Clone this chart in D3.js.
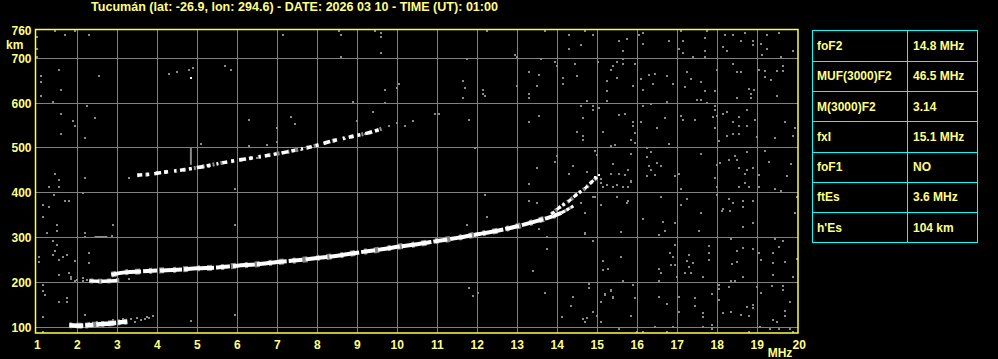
<!DOCTYPE html>
<html>
<head>
<meta charset="utf-8">
<script src="https://cdn.jsdelivr.net/npm/d3@7"></script>
<style>
body{margin:0;background:#000;overflow:hidden;}
text{font-family:"Liberation Sans",Arial,sans-serif;font-weight:bold;}
</style>
</head>
<body>
<div id="chart-area"></div>
<script>
// ionogram header + axes
var title="Tucumán (lat: -26.9, lon: 294.6) - DATE: 2026 03 10 - TIME (UT): 01:00";
var freqTicks=[1,2,3,4,5,6,7,8,9,10,11,12,13,14,15,16,17,18,19,20];
var kmTicks=[100,200,300,400,500,600,700];
// parameter table
var paramNames=["foF2","MUF(3000)F2","M(3000)F2","fxI","foF1","ftEs","h'Es"];
var paramValues=["14.8 MHz","46.5 MHz","3.14","15.1 MHz","NO","3.6 MHz","104 km"];

// traces (MHz , km)
var f2Freq=[2.85,3.2,3.6,4.0,4.5,5.0,5.5,6.0,6.5,7.0,7.5,8.0,8.5,9.0,9.5,10.0,10.5,11.0,11.5,12.0,12.5,13.0,13.5,13.8,14.1];
var f2Km=[217,222,224,226,228,231,233,237,240,245,249,254,259,266,272,279,285,292,299,307,315,325,337,345,355];
var f2LowFreq=[2.3,2.6,2.85,3.05];
var f2LowKm=[203,202,203,204];
var f2TailFreq=[14.1,14.25,14.4];
var f2TailKm=[355,362,370];
var xBranchFreq=[13.85,14.1,14.3,14.5,14.7,14.85,15.0];
var xBranchKm=[352,370,382,397,410,423,435];
var f2HopFreq=[3.5,3.8,4.2,4.5,5.0,5.65,6.2,6.75,7.3,7.83,8.4,8.9,9.38,9.65];
var f2HopKm=[439,441,446,449,456,467,475,483,492,502,516,526,536,544];
var esFreq=[1.8,2.1,2.4,2.7,3.0,3.25];
var esKm=[104,103,105,107,110,112];

// scattered echoes / noise (MHz , km)
var noisePts=[
[14.28,751],[14.7,760],[14.9,751],[14.6,729],[14.3,720],[15.53,738],[15.75,742],[15.65,716],[16.13,733],[16.15,756],[16.05,751],[16.8,738],[17.1,760],[17.15,738],[17.03,720],[17.15,711],[17.4,702],[17.7,745],[17.75,760],[17.7,716],[17.7,702],[18.18,751],[18.4,751],[18.7,756],[18.6,738],[18.88,738],[18.9,729],[18.15,725],[18.25,716],[19.25,751],[19.1,733],[19.25,720],[19.13,707],[19.55,756],[19.6,704],[19.9,716],
[14.45,687],[15.03,691],[15.35,673],[15.4,682],[15.5,691],[15.65,687],[15.65,698],[15.95,687],[14.15,655],[14.5,660],[14.15,642],[15.25,649],[15.25,626],[15.5,655],[15.9,638],[16.1,653],[16.15,629],[16.3,662],[16.45,664],[16.75,660],[16.4,642],[16.9,642],[17.25,669],[17.35,653],[17.6,647],[17.2,635],[17.7,626],[17.95,626],[17.5,606],[17.6,606],[15.25,604],[14.75,604],[16.75,602],[18,673],[18.4,687],[18.5,669],[18.6,669],[18.8,631],[18.93,629],[18.85,620],[18.85,611],[18.5,611],[19.05,673],[19.2,671],[19.2,658],[19.35,651],[19.5,671],[19.65,671],[19.5,615],[19.65,682],
[14.6,593],[14.9,593],[14.9,584],[15.05,588],[14.65,566],[14.5,535],[14.65,526],[14.65,517],[15.15,535],[15.55,573],[15.68,575],[15.9,557],[15.9,548],[15.95,533],[15.95,510],[15.85,517],[15.35,504],[15.45,506],[16.1,557],[16.15,593],[16.35,597],[16.5,544],[16.7,566],[16.8,508],[17.1,571],[17.15,562],[17.45,562],[17.75,600],[17.95,593],[17.95,584],[17.9,568],[18,571],[17.95,544],[18.03,515],[18.15,575],[18.25,580],[18.4,557],[18.53,568],[18.55,548],[18.75,584],[18.75,548],[18.25,526],[18.4,531],[18.55,531],[18.95,562],[19,524],[19.45,522],[19.7,557],[19.9,526],[19.95,544],
[14.95,493],[14.98,484],[14.4,459],[14.28,441],[14.75,446],[15.4,464],[15.35,441],[15.55,441],[15.7,439],[15.78,450],[15.85,486],[15.85,426],[16.23,499],[16.35,490],[16.25,479],[16.3,459],[16.35,450],[16.5,466],[16.6,459],[16.25,437],[16.45,439],[16.95,437],[17.05,441],[17.6,486],[18,461],[18.08,466],[18.3,472],[18.45,481],[18.5,472],[18.75,490],[18.55,455],[18.7,441],[18.9,455],[18.75,450],[19.05,439],[19.2,493],[19.28,468],[19.85,464],[19.75,437],[17.95,432],[15.08,430],
[15.1,421],[15.15,412],[15.25,417],[15.4,412],[15.5,417],[15.65,412],[15.78,412],[15.85,423],[14.88,390],[14.95,390],[15.5,390],[15.78,381],[15.75,377],[14.6,377],[15.08,372],[14.7,354],[14.7,310],[15.6,312],[16.15,341],[16.6,390],[16.65,334],[16.95,332],[16.53,305],[16.7,314],[17.1,408],[17.25,386],[17.1,372],[17.6,354],[17.53,314],[18,394],[18,412],[18.13,359],[18.15,363],[18.33,359],[18.3,386],[18.4,377],[18.65,381],[18.65,368],[18.65,323],[18.55,412],[18.78,412],[18.7,421],[19.05,412],[18.9,332],[18.9,381],[19.45,408],[19.6,403],[19.98,390],[19.95,354],
[14.9,292],[15.15,247],[15.15,227],[15.28,229],[15.6,256],[15.65,203],[16.53,229],[16.6,220],[16.83,265],[16.9,256],[16.85,238],[16.95,238],[16.95,283],[17,212],[17.28,261],[17.25,247],[17.4,243],[17.28,234],[17.2,220],[17.35,220],[17.78,281],[17.78,265],[17.78,250],[17.65,212],[18.35,296],[18.5,270],[18.65,276],[18.5,245],[18.38,241],[18.65,212],[18.9,274],[19.05,265],[19.1,250],[19.4,265],[19.4,243],[19.4,216],[19.55,278],[19.45,296],[19.65,292],[19.7,245],[19.9,212],[19.98,252],[18.35,203],[18.45,203],[16.55,203],
[14.78,196],[14.8,187],[14.4,167],[14.35,147],[14.13,122],[14.65,118],[14.73,120],[14.7,111],[14.88,133],[14.98,125],[15.2,171],[15.35,180],[15.08,156],[15.4,165],[15.9,194],[15.95,165],[15.85,125],[16.53,167],[16.75,151],[17.03,167],[17.05,133],[17.45,165],[17.45,147],[17.65,131],[17.65,122],[17.88,174],[18.03,194],[18.05,185],[18.05,160],[18.3,189],[18.15,131],[18.35,133],[18.6,127],[18.73,145],[18.8,125],[18.9,149],[18.9,142],[19,189],[19.1,176],[19.38,191],[19.65,191],[19.65,183],[19.83,156],[19.7,136],[19.7,125],[19.4,116],[19.5,111],[19.08,100],[19.53,96],[19.83,96],[19.9,89],[15.08,111],[15.53,96],[16.45,100],[16.75,89],[16.9,100],[17.65,100],[17.88,104],[17.88,96],[18.78,89],[19.33,96],[16.15,89],[16,89],
[1.45,760],[1.7,751],[1.95,760],[2.3,751],[1.0,747],[1.0,720],[1.0,702],[1.55,673],[1.1,660],[1.1,647],[1.6,629],[2.55,660],[1.1,615],[1.4,602],[2.25,593],[1.6,575],[1.9,559],[1.95,548],[2.45,566],[1.6,531],[2.2,522],[4.3,664],[4.5,669],[4.78,673],[4.9,678],[5.7,682],[5.85,673],[7.15,751],[6.3,562],[7,544],[7.35,568],[7.45,553],[5.1,508],[6.75,506],[6.3,504],[7,513],
[8.55,760],[8.6,751],[9.45,760],[9.6,756],[9.6,747],[9.6,711],[8.6,704],[12.25,760],[13.7,760],[14.28,720],[12.95,707],[13,702],[11.75,698],[13.6,698],[13.95,691],[14,682],[13.3,669],[13.55,662],[13.5,638],[11.65,649],[11.7,633],[11.65,611],[12.15,629],[12.15,620],[12.2,615],[13,638],[13.3,620],[13.3,611],[10.05,642],[10,633],[9.7,629],[9.7,600],[8.9,602],[9.4,580],[13.55,571],[13.3,557],[11.8,562],[10.95,575],[11.05,575],[10.4,559],[10.2,548],[10,555],[9,559],[11.95,499],[14,481],
[1.45,441],[1.55,428],[1.55,412],[1.3,412],[1.43,394],[1.7,381],[1.8,381],[1.15,372],[1.3,368],[1.15,345],[1.5,328],[1.5,314],[1.25,310],[1.4,292],[1.5,283],[1.45,270],[1.4,261],[1.65,256],[1.75,261],[1.55,250],[1.03,256],[1.03,245],[1.95,247],[1.8,220],[1.85,212],[1.55,216],[1.15,194],[1.15,180],[1.2,171],[1.75,165],[2.2,432],[2.15,399],[2.9,328],[2.2,310],[2.2,301],[2.3,265],[2.3,243],[1.95,203],[2.15,209],[3.3,432],[5.95,408],[5.95,328],[5.9,470],[2.88,303],[3.3,207],
[13.95,468],[13.5,455],[13.3,419],[12.2,394],[13.3,381],[13.5,377],[13.53,319],[11.75,328],[12.25,345],[13.75,301],[13.75,274],[14.7,308],[13.4,225],[11.8,187],[11.9,169],[12.03,176],[13.7,176],[15.2,174],[15.35,183],[15.4,167],
[1.15,122],[1.55,156],[1.75,156],[2.2,127],[1.15,89],[4.85,113],[5.95,127],
[3.35,118],[3.5,121],[3.6,116],[3.75,123],[3.8,120],[3.9,125],[2.5,112],[2.9,116],[3.15,118],[2.3,108],[3.45,112],[3.7,117],
[1.85,207],[2.0,205],[2.15,203],[2.25,206],
[4.0,446],[4.7,452],[5.3,458],[5.9,470],[6.5,478],[7.0,487],[7.6,496],[8.2,509],[8.7,520],[9.2,531],[9.8,548]
];
// a few isolated strong echoes
var whitePts=[[4.85,655],[14.95,436],[15.05,440]];

var W=998,H=359;
var svg=d3.select("#chart-area").append("svg").attr("width",W).attr("height",H)
          .style("background","#000").style("display","block");

var x=d3.scaleLinear().domain([1,20]).range([37.3,797.3]);
var y=d3.scaleLinear().domain([100,700]).range([327,58.3]);

var plotL=35.5,plotT=29.5,plotR=798,plotB=333;

//grid
var grid=svg.append("g").attr("shape-rendering","crispEdges");
grid.selectAll("line.v").data(freqTicks.slice(1,-1)).enter().append("line")
    .attr("x1",d=>Math.floor(x(d))+0.5).attr("x2",d=>Math.floor(x(d))+0.5)
    .attr("y1",plotT).attr("y2",plotB)
    .attr("stroke","#808080").attr("stroke-width",1);
grid.selectAll("line.h").data(kmTicks).enter().append("line")
    .attr("x1",plotL).attr("x2",plotR)
    .attr("y1",d=>Math.floor(y(d))+0.5).attr("y2",d=>Math.floor(y(d))+0.5)
    .attr("stroke","#808080").attr("stroke-width",1);

var g=svg.append("g");

//noise dots
g.selectAll("rect.noise").data(noisePts).enter().append("rect")
 .attr("class","noise")
 .attr("x",d=>Math.round(x(d[0]))-1)
 .attr("y",d=>Math.round(y(d[1]))-1)
 .attr("width",2).attr("height",2)
 .attr("fill","#8a8a8a").attr("shape-rendering","crispEdges");

function pairs(fs,ks){ return fs.map((f,i)=>[f,ks[i]]); }
var line=d3.line().x(d=>x(d[0])).y(d=>y(d[1])).curve(d3.curveMonotoneX);

function trace(data,gray,white,dash,grayDash){
  if(gray>0){
    g.append("path").attr("d",line(data)).attr("fill","none")
     .attr("stroke","#8a8a8a").attr("stroke-width",gray)
     .attr("stroke-dasharray",grayDash||null);
  }
  g.append("path").attr("d",line(data)).attr("fill","none")
   .attr("stroke","#fff").attr("stroke-width",white)
   .attr("stroke-dasharray",dash||null);
}

//F2 trace
trace(pairs(f2Freq,f2Km),6,4,"30,2,14,3,22,2",  "5,9,3,7");
trace(pairs(f2LowFreq,f2LowKm),5,3.5,"10,2,16,3","4,5");
trace(pairs(f2TailFreq,f2TailKm),3,3,"4,2,3,2",null);
trace(pairs(xBranchFreq,xBranchKm),4,3,"4,3,5,2,3,4","2,3");
//second hop
trace(pairs(f2HopFreq,f2HopKm),4,3.5,"5,4,3,5,7,3,4,6,2,4","2,6,3,8");
//Es
trace(pairs(esFreq,esKm),6,4.5,"14,2,8,3,20,2","3,4,6,3");

//gray artefacts
g.append("line").attr("x1",x(4.84)).attr("x2",x(4.84)).attr("y1",y(462)).attr("y2",y(500))
 .attr("stroke","#8a8a8a").attr("stroke-width",2);
g.append("line").attr("x1",x(2.43)).attr("x2",x(2.75)).attr("y1",y(301)).attr("y2",y(301))
 .attr("stroke","#8a8a8a").attr("stroke-width",2);

g.selectAll("rect.white").data(whitePts).enter().append("rect")
 .attr("x",d=>Math.round(x(d[0]))-1).attr("y",d=>Math.round(y(d[1]))-1)
 .attr("width",2).attr("height",2).attr("fill","#fff");

//border
svg.append("rect").attr("x",plotL).attr("y",plotT).attr("width",plotR-plotL).attr("height",plotB-plotT)
   .attr("fill","none").attr("stroke","#ffff40").attr("stroke-width",1.5);

var yellow="#ffff80";
//title
svg.append("text").attr("x",91).attr("y",11).attr("fill",yellow)
   .attr("textLength",407).attr("lengthAdjust","spacingAndGlyphs")
   .style("font-size","12px").text(title);

//x labels
svg.selectAll("text.xl").data(freqTicks).enter().append("text")
   .attr("x",d=>x(d)+ (d==20?2:0)).attr("y",348.5)
   .attr("text-anchor","middle").attr("fill",yellow)
   .style("font-size","12px").text(d=>d);
svg.append("text").attr("x",780).attr("y",357).attr("text-anchor","middle")
   .attr("fill",yellow).style("font-size","12px").text("MHz");

//y labels
svg.selectAll("text.yl").data(kmTicks).enter().append("text")
   .attr("x",31.5).attr("y",d=>y(d)+4.5)
   .attr("text-anchor","end").attr("fill",yellow)
   .style("font-size","12px").text(d=>d);
svg.append("text").attr("x",31.5).attr("y",35).attr("text-anchor","end")
   .attr("fill",yellow).style("font-size","12px").text("760");
svg.append("text").attr("x",6).attr("y",48.5)
   .attr("fill",yellow).style("font-size","12px").text("km");

//table
var tL=812.5,tM=907.5,tR=977.5,tT=30.5,rowH=30.25;
var tbl=svg.append("g").attr("shape-rendering","crispEdges");
tbl.append("rect").attr("x",tL).attr("y",tT).attr("width",tR-tL).attr("height",rowH*paramNames.length)
   .attr("fill","none").attr("stroke","#00ffff").attr("stroke-width",1.5);
tbl.append("line").attr("x1",tM).attr("x2",tM).attr("y1",tT).attr("y2",tT+rowH*paramNames.length)
   .attr("stroke","#00ffff").attr("stroke-width",1.5);
tbl.selectAll("line.r").data(paramNames.slice(1)).enter().append("line")
   .attr("x1",tL).attr("x2",tR)
   .attr("y1",(d,i)=>Math.round(tT+rowH*(i+1))+0.5).attr("y2",(d,i)=>Math.round(tT+rowH*(i+1))+0.5)
   .attr("stroke","#00ffff").attr("stroke-width",1.5);
svg.selectAll("text.pn").data(paramNames).enter().append("text")
   .attr("x",817).attr("y",(d,i)=>tT+rowH*i+rowH/2+4.5)
   .attr("fill",yellow).style("font-size","12px").text(d=>d);
svg.selectAll("text.pv").data(paramValues).enter().append("text")
   .attr("x",913).attr("y",(d,i)=>tT+rowH*i+rowH/2+4.5)
   .attr("fill",yellow).style("font-size","12px").text(d=>d);
</script>
</body>
</html>
